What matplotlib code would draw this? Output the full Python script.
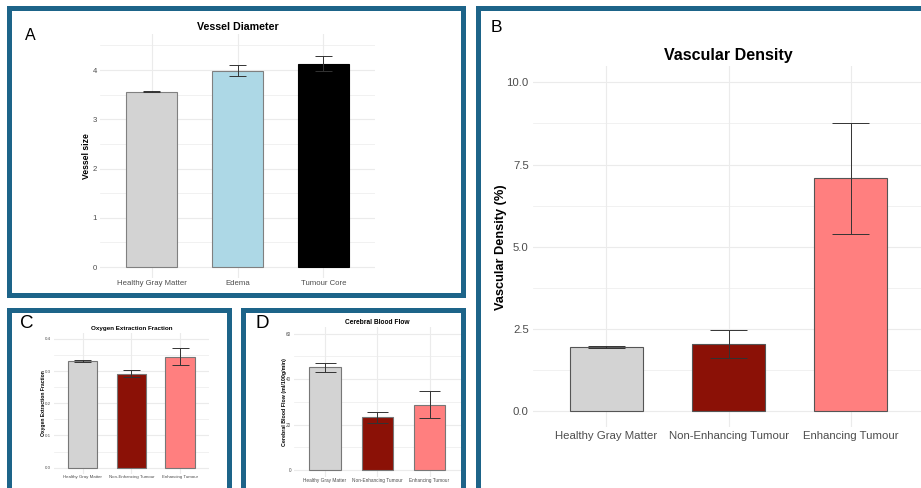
import numpy as np
import matplotlib
matplotlib.use("Agg")
import matplotlib.pyplot as plt
from matplotlib.patches import Rectangle

plt.rcParams['font.family'] = ['Liberation Sans', 'DejaVu Sans']

W, H = 921, 488

# ---- data ----
cats_a = ["Healthy Gray Matter", "Edema", "Tumour Core"]
vessel_size = [3.56, 3.99, 4.13]
vessel_err = [0.01, 0.12, 0.15]

cats_t = ["Healthy Gray Matter", "Non-Enhancing Tumour", "Enhancing Tumour"]
vasc_density = [1.95, 2.03, 7.08]
vasc_err = [0.04, 0.42, 1.70]

oef = [0.331, 0.292, 0.345]
oef_err = [0.003, 0.010, 0.027]

cbf = [45.2, 23.2, 28.7]
cbf_err = [2.0, 2.4, 6.0]

colors_a = ["#D3D3D3", "#ADD8E6", "#000000"]
edges_a = ["#808080", "#808080", "#000000"]
colors_t = ["#D3D3D3", "#8B1106", "#FF7F7F"]
border_col = "#1D6489"
grid_col = "#EBEBEB"
tick_col = "#4D4D4D"


def px_axes(fig, left, top, right, bottom):
    return fig.add_axes([left / W, 1 - bottom / H, (right - left) / W, (bottom - top) / H])


def border(fig, x0, y0, x1, y1):
    fig.add_artist(Rectangle((x0 / W, 1 - y1 / H), (x1 - x0) / W, (y1 - y0) / H,
                             transform=fig.transFigure, fill=False,
                             edgecolor=border_col, linewidth=3.6, clip_on=False))


def bar_panel(ax, cats, vals, errs, colors, edges, ylim, yticks, minor, cap,
              title, ylabel, fs_title, fs_tick, fs_ylab, pad_x, pad_y, title_pad, lab_pad):
    x = np.arange(1, len(cats) + 1)
    ax.set_xlim(0.4, len(cats) + 0.6)
    ax.set_ylim(*ylim)
    for yv in minor:
        ax.axhline(yv, color=grid_col, lw=0.5, zorder=0)
    for yv in yticks:
        ax.axhline(yv, color=grid_col, lw=0.8, zorder=0)
    for xv in x:
        ax.axvline(xv, color=grid_col, lw=0.8, zorder=0)
    ax.bar(x, vals, width=0.6, color=colors, edgecolor=edges, linewidth=0.8, zorder=2)
    lo = np.array(vals) - np.array(errs)
    hi = np.array(vals) + np.array(errs)
    ax.vlines(x, lo, hi, color="#333333", lw=0.7, zorder=3)
    ax.hlines(lo, x - cap / 2, x + cap / 2, color="#333333", lw=0.7, zorder=3)
    ax.hlines(hi, x - cap / 2, x + cap / 2, color="#333333", lw=0.7, zorder=3)
    ax.set_xticks(x)
    ax.set_xticklabels(cats)
    ax.set_yticks(yticks)
    ax.tick_params(length=0, colors=tick_col, labelsize=fs_tick)
    ax.tick_params(axis="x", pad=pad_x)
    ax.tick_params(axis="y", pad=pad_y)
    for s in ax.spines.values():
        s.set_visible(False)
    ax.set_title(title, fontsize=fs_title, fontweight="bold", pad=title_pad)
    ax.set_ylabel(ylabel, fontsize=fs_ylab, fontweight="bold", labelpad=lab_pad)


fig = plt.figure(figsize=(W / 100, H / 100), dpi=100)
fig.patch.set_facecolor("white")

# Panel A
axA = px_axes(fig, 100, 34.3, 375, 278.1)
bar_panel(axA, cats_a, vessel_size, vessel_err, colors_a, edges_a,
          (-0.225, 4.725), [0, 1, 2, 3, 4], [0.5, 1.5, 2.5, 3.5, 4.5], 0.2,
          "Vessel Diameter", "Vessel size", 7.7, 5.6, 6.2, 1.5, 2, 3, 1)

# Panel B
axB = px_axes(fig, 533, 66, 924, 427.4)
bar_panel(axB, cats_t, vasc_density, vasc_err, colors_t, ["#555555"] * 3,
          (-0.5, 10.5), [0, 2.5, 5, 7.5, 10], [1.25, 3.75, 6.25, 8.75], 0.3,
          "Vascular Density", "Vascular Density (%)", 11.5, 8.2, 9.2, 2.5, 3, 4.5, 0)
axB.set_yticklabels(["0.0", "2.5", "5.0", "7.5", "10.0"])

# Panel C
axC = px_axes(fig, 53.6, 332.5, 209.2, 474.1)
bar_panel(axC, cats_t, oef, oef_err, colors_t, ["#777777"] * 3,
          (-0.02, 0.42), [0, 0.1, 0.2, 0.3, 0.4], [0.05, 0.15, 0.25, 0.35], 0.35,
          "Oxygen Extraction Fraction", "Oxygen Extraction Fraction", 4.5, 3.2, 3.6, 1, 2, 2, -1)

# Panel D
axD = px_axes(fig, 293.7, 326.9, 460.9, 476.8)
bar_panel(axD, cats_t, cbf, cbf_err, colors_t, ["#777777"] * 3,
          (-3, 63), [0, 20, 40, 60], [10, 30, 50], 0.4,
          "Cerebral Blood Flow", "Cerebral Blood Flow (ml/100g/min)", 4.8, 3.4, 3.8, 1, 2, 2, -1)

# panel borders
border(fig, 8.5, 7.5, 462.5, 294.5)
border(fig, 477.5, 7.5, 940, 510)
border(fig, 8.5, 309.5, 228.5, 510)
border(fig, 242.5, 309.5, 462.5, 510)

# panel letters
fig.text(30 / W, 1 - 35 / H, "A", fontsize=11.5, ha="center", va="center")
fig.text(496 / W, 1 - 27 / H, "B", fontsize=12.5, ha="center", va="center")
fig.text(27 / W, 1 - 323 / H, "C", fontsize=13.5, ha="center", va="center")
fig.text(262 / W, 1 - 323 / H, "D", fontsize=13.5, ha="center", va="center")

fig.savefig("out.png", dpi=100)
